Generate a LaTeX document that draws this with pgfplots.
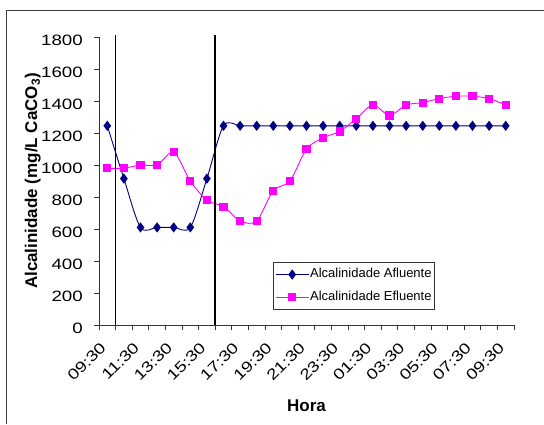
\documentclass[border=0pt]{standalone}
\usepackage{fontspec}
\setmainfont{Liberation Sans}
\newfontfamily\tickfont[FakeStretch=1.25]{Liberation Sans}
\usepackage{pgfplots}
\usepackage{pgfplotstable}
\pgfplotsset{compat=1.18}
\definecolor{afl}{HTML}{000080}
\definecolor{efl}{HTML}{FF00FF}
\pgfplotstableread{
x afl efl
0 1245 980
1 915 980
2 610 1000
3 610 1000
4 610 1080
5 610 900
6 915 780
7 1245 740
8 1245 650
9 1245 650
10 1245 840
11 1245 900
12 1245 1100
13 1245 1170
14 1245 1210
15 1245 1290
16 1245 1375
17 1245 1310
18 1245 1375
19 1245 1390
20 1245 1415
21 1245 1430
22 1245 1430
23 1245 1415
24 1245 1375
}\data
\begin{document}
\begin{tikzpicture}
\useasboundingbox (-99pt,-99pt) rectangle (445pt,325pt);
\draw[black!75, line width=1pt] (-92pt,-99pt) -- (-92pt,315pt) -- (445pt,315pt);
\begin{axis}[
  name=ax,
  at={(0,0)}, anchor=south west,
  width=415pt, height=288pt, scale only axis,
  xmin=-0.5, xmax=24.5, ymin=0, ymax=1800,
  clip=false,
  axis x line*=bottom, axis y line*=left,
  axis line style={-, black!80, line width=0.8pt},
  tick align=outside,
  major tick length=0pt,
  minor tick length=5pt,
  minor tick style={black!80, line width=0.8pt},
  xtick={0,2,...,24},
  xticklabels={09:30,11:30,13:30,15:30,17:30,19:30,21:30,23:30,01:30,03:30,05:30,07:30,09:30},
  minor xtick={-0.5,0.5,...,24.5},
  ytick={0,200,...,1800},
  minor ytick={0,200,...,1800},
  /pgf/number format/assume math mode=true,
  /pgf/number format/1000 sep={},
  xticklabel style={font=\tickfont\fontsize{15}{15}\selectfont, inner sep=0pt, anchor=east, xshift=-4pt, rotate=45},
  xticklabel shift=20pt,
  yticklabel style={font=\tickfont\fontsize{15}{15}\selectfont, inner sep=0pt, anchor=east, yshift=-3pt},
  yticklabel shift=16pt,
  xlabel={Hora},
  ylabel={Alcalinidade (mg/L CaCO\textsubscript{3})},
  xlabel style={font=\bfseries\fontsize{17}{20}\selectfont, at={(axis description cs:0.5,-0.302)}, anchor=base},
  ylabel style={font=\bfseries\fontsize{17}{20}\selectfont, at={(axis description cs:-0.149,0.5)}, anchor=base, rotate=0},
  legend style={at={(axis description cs:0.419,0.219)}, anchor=north west,
    draw=black!80, line width=0.8pt, fill=white,
    font=\fontsize{13}{15}\selectfont,
    inner xsep=2pt, inner ysep=5pt,
    row sep=8pt,
    nodes={text height=9.5pt, text depth=3pt, inner sep=1pt},
    cells={anchor=west}},
  legend image code/.code={\draw[mark repeat=2, mark phase=2, #1] plot coordinates {(0pt,0pt) (16.5pt,0pt) (33pt,0pt)};},
]
\addplot[afl, line width=0.9pt, smooth, tension=0.5, mark=diamond*, mark size=4.4pt, mark options={solid, fill=afl}] table[x=x, y=afl] {\data};
\addlegendentry{Alcalinidade Afluente}
\addplot[efl, line width=0.9pt, smooth, tension=0.5, mark=square*, mark size=3.6pt, mark options={solid, fill=efl}] table[x=x, y=efl] {\data};
\addlegendentry{Alcalinidade Efluente}
\addplot[black, line width=1.5pt, forget plot] coordinates {(0.5,0) (0.5,1812)};
\addplot[black, line width=1.5pt, forget plot] coordinates {(6.5,0) (6.5,1812)};
\end{axis}
\end{tikzpicture}
\end{document}
